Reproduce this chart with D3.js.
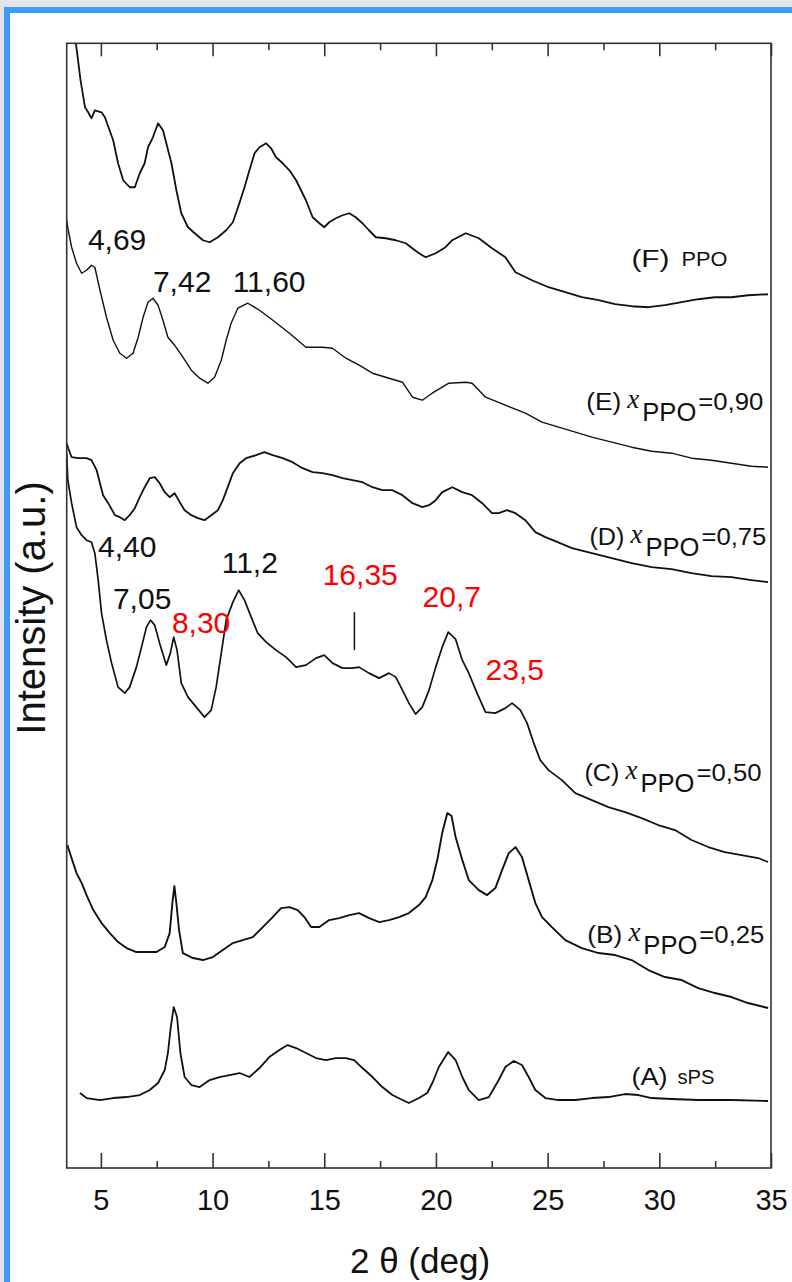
<!DOCTYPE html>
<html lang="en">
<head>
<meta charset="utf-8">
<title>XRD sPS / PPO blends</title>
<script src="https://cdnjs.cloudflare.com/ajax/libs/d3/7.8.5/d3.min.js"></script>
<style>
	body { margin: 0; background: #fff; }
	.trace { fill: none; stroke: #111; stroke-linejoin: round; }
	.frame { fill: none; stroke: #333; stroke-width: 1.6px; }
	.axis path { display: none; }
	.axis line { stroke: #333; stroke-width: 1.6px; }
	.axis text { font-family: "Liberation Sans", Arial, sans-serif; font-size: 29px; fill: #111; }
	.title { font-family: "Liberation Sans", Arial, sans-serif; fill: #111; }
	.peak { font-family: "Liberation Sans", Arial, sans-serif; font-size: 30px; }
	.lab { font-family: "Liberation Sans", Arial, sans-serif; fill: #111; }
	.xit { font-family: "Liberation Serif", "Times New Roman", serif; font-style: italic; }
</style>
</head>
<body>
<div id="chart"></div>
<script>
// 2-theta range and tick labels
var xDomain = [3.47, 35];
var majorTicks = [5, 10, 15, 20, 25, 30, 35];
var minorTicks = [7.5, 12.5, 17.5, 22.5, 27.5, 32.5];

// traces: [2theta, intensity (a.u., offsets included)]
var traceA = [[4.06,75],[4.36,70],[4.96,68],[5.55,70],[6.15,71],[6.74,73],[7.19,78],[7.56,85],[7.86,98],[8.00,115],[8.13,141],[8.26,161],[8.41,151],[8.56,115],[8.75,91],[9.05,83],[9.42,81],[9.87,88],[10.31,91],[10.76,93],[11.21,95],[11.65,91],[12.10,100],[12.54,111],[12.99,118],[13.36,123],[13.74,120],[14.18,115],[14.63,110],[15.08,108],[15.52,110],[15.97,110],[16.34,108],[16.71,100],[17.16,91],[17.60,81],[18.05,73],[18.50,68],[18.79,65],[19.24,70],[19.61,75],[19.84,85],[20.13,101],[20.55,116],[20.88,108],[21.18,91],[21.47,78],[21.92,68],[22.37,71],[22.81,88],[23.11,101],[23.48,107],[23.85,103],[24.15,91],[24.45,78],[24.90,70],[25.49,68],[26.24,68],[26.98,70],[27.72,71],[28.47,74],[29.06,73],[29.66,70],[30.55,69],[31.74,68],[33.23,68],[34.87,67]];
var traceB = [[3.50,323],[3.76,305],[3.91,295],[4.14,285],[4.36,273],[4.66,258],[5.03,245],[5.40,235],[5.77,226],[6.15,220],[6.59,216],[7.04,216],[7.49,216],[7.86,221],[8.08,235],[8.20,265],[8.29,282],[8.38,265],[8.50,238],[8.67,215],[9.12,210],[9.57,208],[10.01,211],[10.46,218],[10.91,225],[11.35,228],[11.80,231],[12.25,241],[12.69,251],[13.07,260],[13.44,261],[13.81,258],[14.11,251],[14.41,241],[14.78,241],[15.22,248],[15.67,250],[16.12,253],[16.56,255],[17.01,250],[17.46,246],[17.90,248],[18.35,251],[18.79,255],[19.24,263],[19.54,271],[19.84,288],[20.06,308],[20.28,335],[20.51,355],[20.70,352],[20.88,331],[21.18,308],[21.47,288],[21.92,278],[22.29,273],[22.66,280],[22.96,298],[23.26,315],[23.56,321],[23.85,311],[24.15,288],[24.45,265],[24.75,251],[25.19,241],[25.79,228],[26.53,220],[27.28,215],[28.02,213],[28.76,208],[29.51,198],[30.25,191],[31.00,188],[31.74,180],[32.49,175],[33.23,171],[33.97,165],[34.87,160]];
var traceC = [[3.47,715],[3.52,688],[3.69,665],[3.91,641],[4.14,633],[4.36,628],[4.58,626],[4.73,615],[4.88,588],[5.03,555],[5.25,528],[5.48,505],[5.77,481],[6.07,475],[6.29,481],[6.59,501],[6.82,521],[7.04,541],[7.22,548],[7.41,543],[7.63,525],[7.93,503],[8.11,515],[8.26,531],[8.41,518],[8.60,485],[8.90,471],[9.27,461],[9.64,451],[9.94,458],[10.16,481],[10.39,515],[10.61,548],[10.91,566],[11.17,578],[11.43,568],[11.73,551],[12.02,535],[12.40,526],[12.84,518],[13.29,511],[13.74,501],[14.18,503],[14.63,510],[15.00,513],[15.37,505],[15.82,500],[16.26,500],[16.56,501],[17.00,495],[17.46,490],[17.90,495],[18.20,491],[18.50,478],[18.79,465],[19.09,454],[19.39,461],[19.69,478],[19.99,501],[20.28,521],[20.55,536],[20.88,529],[21.18,508],[21.47,495],[21.84,475],[22.22,456],[22.66,455],[23.11,460],[23.41,465],[23.78,458],[24.08,445],[24.38,425],[24.67,408],[25.04,398],[25.64,388],[26.24,375],[26.98,368],[27.72,361],[28.47,356],[29.21,350],[29.95,343],[30.70,338],[31.44,328],[32.19,321],[32.93,316],[33.68,313],[34.42,310],[34.87,306]];
var traceD = [[3.47,725],[3.54,720],[3.69,711],[3.99,710],[4.36,710],[4.58,708],[4.81,698],[4.96,685],[5.10,673],[5.33,665],[5.63,653],[5.85,651],[6.07,648],[6.29,653],[6.52,660],[6.74,671],[6.96,681],[7.19,690],[7.41,691],[7.63,685],[7.86,676],[8.08,671],[8.30,675],[8.53,666],[8.75,658],[9.05,653],[9.34,650],[9.64,648],[9.94,653],[10.24,658],[10.46,668],[10.68,681],[10.91,695],[11.21,705],[11.50,710],[11.95,713],[12.32,716],[12.69,713],[13.14,710],[13.58,706],[14.03,700],[14.48,696],[14.92,695],[15.37,693],[15.82,690],[16.26,688],[16.71,686],[17.16,681],[17.60,678],[18.05,678],[18.50,673],[18.95,665],[19.39,661],[19.69,663],[19.99,668],[20.28,676],[20.73,681],[21.18,676],[21.62,673],[22.07,665],[22.51,655],[22.81,655],[23.18,658],[23.56,655],[24.00,648],[24.45,636],[24.90,631],[25.34,627],[26.09,620],[26.98,615],[27.87,610],[28.76,605],[29.66,601],[30.55,599],[31.44,595],[32.34,592],[33.23,591],[34.12,588],[34.87,586]];
var traceE = [[3.47,948],[3.54,938],[3.69,921],[3.91,905],[4.14,895],[4.36,898],[4.58,903],[4.73,901],[4.96,878],[5.25,851],[5.55,828],[5.85,815],[6.15,810],[6.44,815],[6.67,831],[6.89,851],[7.11,866],[7.33,870],[7.56,863],[7.78,848],[8.00,831],[8.30,823],[8.67,811],[9.05,798],[9.42,790],[9.79,785],[10.09,791],[10.39,808],[10.61,828],[10.83,845],[11.13,860],[11.58,865],[12.10,858],[12.70,848],[13.44,835],[14.18,821],[14.93,821],[15.37,820],[15.97,810],[16.56,803],[17.16,795],[17.90,790],[18.50,786],[18.95,771],[19.39,768],[19.83,775],[20.58,785],[21.33,786],[21.62,785],[22.22,771],[23.11,763],[24.00,755],[24.75,746],[25.49,741],[26.24,736],[26.98,731],[27.87,726],[28.76,721],[29.66,717],[30.55,715],[31.44,710],[32.34,708],[33.23,705],[34.12,702],[34.87,701]];
var traceF = [[3.80,1160],[3.88,1125],[3.99,1106],[4.09,1088],[4.29,1061],[4.43,1056],[4.58,1050],[4.73,1058],[5.03,1056],[5.18,1051],[5.55,1028],[5.77,1005],[6.00,988],[6.29,981],[6.52,981],[6.74,995],[6.96,1005],[7.11,1021],[7.33,1031],[7.56,1045],[7.78,1038],[7.93,1025],[8.16,1005],[8.38,978],[8.60,955],[8.90,941],[9.20,935],[9.57,928],[9.87,926],[10.24,931],[10.61,938],[10.91,946],[11.20,965],[11.43,981],[11.65,998],[11.88,1015],[12.10,1021],[12.40,1025],[12.62,1020],[12.84,1011],[13.14,1005],[13.44,998],[13.74,988],[13.96,978],[14.18,968],[14.48,951],[14.78,945],[15.00,941],[15.22,946],[15.52,950],[15.82,953],[16.12,955],[16.41,951],[16.71,945],[17.00,938],[17.31,931],[17.75,930],[18.20,928],[18.65,925],[18.94,920],[19.24,915],[19.54,911],[19.99,915],[20.43,921],[20.73,928],[21.33,935],[21.92,930],[22.51,920],[23.11,911],[23.56,896],[24.30,888],[25.04,881],[25.79,876],[26.53,871],[27.28,868],[28.02,864],[28.76,862],[29.51,861],[30.25,863],[31.00,866],[31.74,869],[32.49,871],[33.23,871],[33.97,873],[34.87,874]];

// sample labels: letter, composition text, anchor (2theta, intensity)
var sampleIds = ["(A)", "(B)", "(C)", "(D)", "(E)", "(F)"];
var sampleComp = ["sPS", "0,25", "0,50", "0,75", "0,90", "PPO"];
var sampleAnchor = [[28.75, 83], [26.78, 225], [26.65, 387], [26.87, 623], [26.73, 758], [28.75, 901]];

// peak labels: text, anchor (2theta, intensity), red or not
var peakText = ["4,69", "7,42", "11,60", "4,40", "7,05", "8,30", "11,2", "16,35", "20,7", "23,5"];
var peakAnchor = [[4.42, 918], [7.33, 876], [10.90, 876], [4.87, 611], [5.54, 559], [8.18, 535], [10.41, 595], [14.93, 583], [19.40, 561], [22.22, 488]];
var peakRed = [false, false, false, false, false, true, false, true, true, true];
var markTheta = 16.35, markRange = [518, 556];

var W = 792, H = 1282;
var pLeft = 66.7, pRight = 771, pTop = 43.3, pBottom = 1168;

var svg = d3.select("#chart").append("svg")
	.attr("width", W).attr("height", H);

// window frame round the picture
svg.append("rect").attr("width", W).attr("height", H).attr("fill", "#e2e5ec");
svg.append("rect").attr("x", 4).attr("y", 7).attr("width", W - 4).attr("height", H - 7).attr("fill", "#3d9bfd");
svg.append("rect").attr("x", 10).attr("y", 13).attr("width", W - 10).attr("height", H - 13).attr("fill", "#fff");

var x = d3.scaleLinear().domain(xDomain).range([pLeft, pRight]);
var y = d3.scaleLinear().domain([0, 1125]).range([pBottom, pTop]);

svg.append("clipPath").attr("id", "plotclip")
	.append("rect").attr("x", pLeft).attr("y", pTop)
	.attr("width", pRight - pLeft).attr("height", pBottom - pTop);

var line = d3.line().x(function(d){ return x(d[0]); }).y(function(d){ return y(d[1]); });
// noisier scans look heavier in the original
var traceWidth = [1.8, 1.9, 1.7, 1.8, 1.4, 1.8];

svg.append("g").attr("clip-path", "url(#plotclip)")
	.selectAll("path")
	.data([traceA, traceB, traceC, traceD, traceE, traceF])
	.enter().append("path")
	.attr("class", "trace")
	.attr("stroke-width", function(d, i){ return traceWidth[i]; })
	.attr("d", line);

// axes, ticks pointing inwards
svg.append("g").attr("class", "axis")
	.attr("transform", "translate(0," + pBottom + ")")
	.call(d3.axisBottom(x).tickValues(majorTicks).tickSize(-15).tickPadding(21).tickFormat(d3.format("d")));
svg.append("g").attr("class", "axis")
	.attr("transform", "translate(0," + pBottom + ")")
	.call(d3.axisBottom(x).tickValues(minorTicks).tickSize(-7).tickFormat(""));
svg.append("g").attr("class", "axis")
	.attr("transform", "translate(0," + pTop + ")")
	.call(d3.axisTop(x).tickValues(majorTicks).tickSize(-13).tickFormat(""));
svg.append("g").attr("class", "axis")
	.attr("transform", "translate(0," + pTop + ")")
	.call(d3.axisTop(x).tickValues(minorTicks).tickSize(-7).tickFormat(""));

svg.append("rect").attr("class", "frame")
	.attr("x", pLeft).attr("y", pTop)
	.attr("width", pRight - pLeft).attr("height", pBottom - pTop);

// axis titles
svg.append("text").attr("class", "title")
	.attr("x", 420).attr("y", 1273)
	.attr("text-anchor", "middle")
	.attr("font-size", 35)
	.text("2 \u03B8 (deg)");
svg.append("text").attr("class", "title")
	.attr("transform", "translate(45,608) rotate(-90)")
	.attr("text-anchor", "middle")
	.attr("font-size", 40)
	.text("Intensity (a.u.)");

// peak labels
svg.selectAll(".peak")
	.data(peakText)
	.enter().append("text")
	.attr("class", "peak")
	.attr("x", function(d, i){ return x(peakAnchor[i][0]); })
	.attr("y", function(d, i){ return y(peakAnchor[i][1]); })
	.attr("fill", function(d, i){ return peakRed[i] ? "#ff0000" : "#111"; })
	.text(function(d){ return d; });

svg.append("line")
	.attr("x1", x(markTheta)).attr("x2", x(markTheta))
	.attr("y1", y(markRange[0])).attr("y2", y(markRange[1]))
	.attr("stroke", "#111").attr("stroke-width", 1.5);

// sample labels, each piece stretched to the width it has in the original
function piece(x0, y0, txt, dx, dy, fs, w, cls) {
	var t = svg.append("text").attr("class", cls || "lab")
		.attr("x", x0 + dx).attr("y", y0 + dy)
		.attr("font-size", fs)
		.text(txt);
	if (w) t.attr("textLength", w).attr("lengthAdjust", "spacingAndGlyphs");
	return t;
}
sampleIds.forEach(function(id, i){
	var x0 = x(sampleAnchor[i][0]), y0 = y(sampleAnchor[i][1]);
	if (i == 0 || i == 5) {
		piece(x0, y0, id, 0, 0, 23, i == 0 ? 36 : 38);
		piece(x0, y0, sampleComp[i], i == 0 ? 46 : 50, -1, 20, i == 0 ? 37 : 46);
	} else {
		piece(x0, y0, id, 0, 0, 23, 35);
		piece(x0, y0, "x", 41, -2, 27, 12, "lab xit");
		piece(x0, y0, "PPO", 56, 11, 25, 54);
		piece(x0, y0, "=" + sampleComp[i], 112, 0, 23, 65);
	}
});
</script>
</body>
</html>
